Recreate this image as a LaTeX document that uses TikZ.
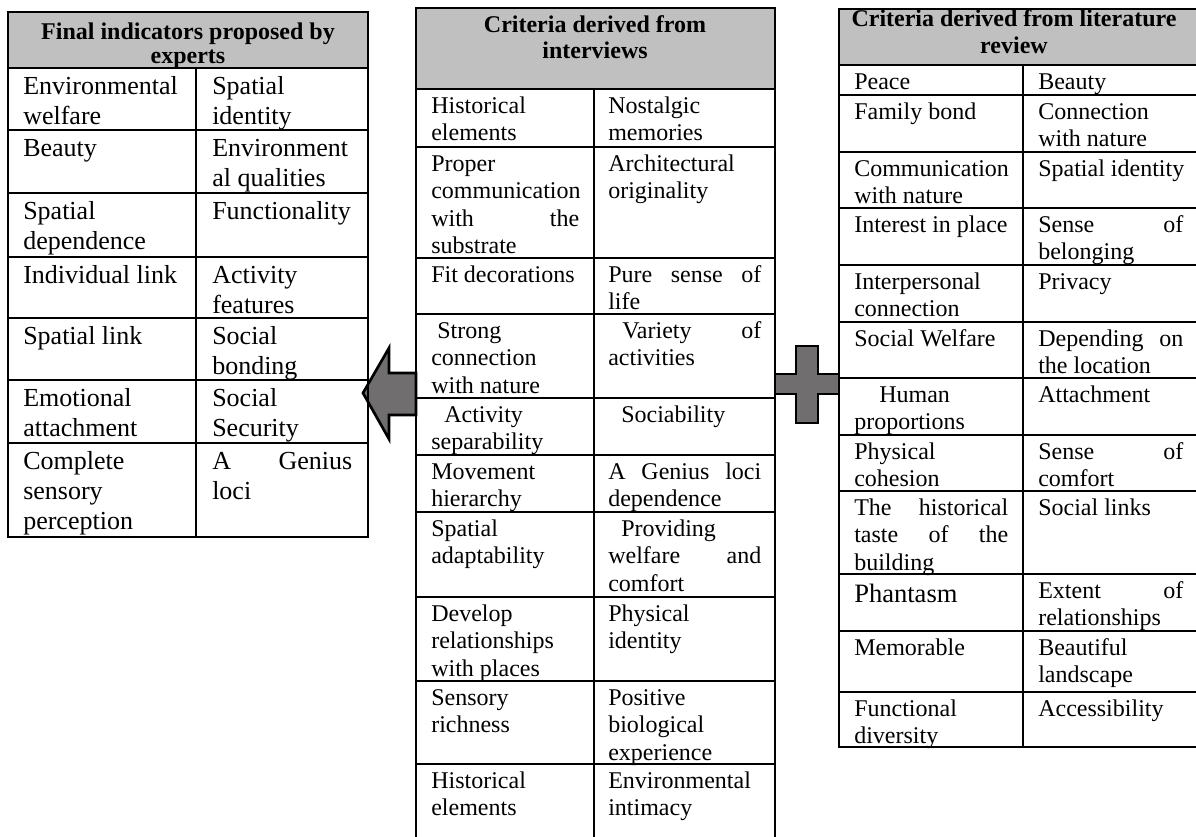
\documentclass[tikz,border=0pt]{standalone}
\usepackage{fontspec}
\setmainfont{Liberation Serif}
\usepackage{tikz}
\definecolor{hdgray}{RGB}{192,192,192}
\definecolor{symgray}{RGB}{112,110,110}
\newdimen\pxu \pxu=0.75pt
\newcommand\jline[2]{\hbox to #1\pxu{#2}}

\begin{document}
\begin{tikzpicture}[x=0.75pt,y=-0.75pt,
   grid/.style={line width=1.5pt,line cap=rect,line join=miter},
   hd/.style={anchor=north,align=center,inner sep=0pt},
   ca/.style={anchor=north west,align=left,inner sep=0pt,font=\fontsize{19.5}{22.5}\selectfont},
   cb/.style={anchor=north west,align=left,inner sep=0pt,font=\fontsize{18}{20.6}\selectfont},
   sym/.style={fill=symgray,draw,line width=2pt,line join=miter}]
  \useasboundingbox (0,0) rectangle (1196,836);

  % block arrow and plus sign
  \draw[sym] (363,393) -- (389,348) -- (389,373) -- (416,373) -- (416,415)
       -- (389,415) -- (389,439) -- cycle;
  \draw[sym] (796,346) -- (818,346) -- (818,374) -- (839,374) -- (839,394)
       -- (818,394) -- (818,423) -- (796,423) -- (796,394) -- (775,394)
       -- (775,374) -- (796,374) -- cycle;

  % table 1: experts
  \fill[hdgray] (8,12) rectangle (368,68);
  \draw[grid] (8,12) rectangle (368,537);
  \foreach \y in {68,130,193,257,318,380,443} \draw[grid] (8,\y) -- (368,\y);
  \draw[grid] (196,68) -- (196,537);
  \node[hd,font=\bfseries\fontsize{18}{18}\selectfont] (h1) at (188,22.7)
       {\strut Final indicators proposed by\\experts};
  \foreach \yt/\ta/\tb [count=\i] in {
     68/{Environmental\\welfare}/{Spatial\\identity},
     130/{Beauty}/{Environment\\al qualities},
     193/{Spatial\\dependence}/{Functionality},
     257/{Individual link}/{Activity\\features},
     318/{Spatial link}/{Social\\bonding},
     380/{Emotional\\attachment}/{Social\\Security},
     443/{Complete\\sensory\\perception}/{\jline{140}{A\hfill Genius}\\loci}}
  {
    \node[ca] (fa\i) at (23,\yt+5) {\strut\ta};
    \node[ca] (fb\i) at (212,\yt+5) {\strut\tb};
  }

  % table 2: interviews
  \fill[hdgray] (416,8) rectangle (775,89);
  \draw[grid] (416,836) -- (416,8) -- (775,8) -- (775,836);
  \foreach \y in {89,147,258,314,398,455,512,597,681,764} \draw[grid] (416,\y) -- (775,\y);
  \draw[grid] (594,89) -- (594,836);
  \node[hd,font=\bfseries\fontsize{18}{19.5}\selectfont] (h2) at (595,13.8)
       {\strut Criteria derived from\\interviews};
  \foreach \yt/\ta/\tb [count=\i] in {
     89/{Historical\\elements}/{Nostalgic\\memories},
     147/{Proper\\communication\\\jline{148}{with\hfill the}\\substrate}/{Architectural\\originality},
     258/{Fit decorations}/{\jline{153}{Pure\hfill sense\hfill of}\\life},
     314/{\hspace{6\pxu}Strong\\connection\\with nature}/{\jline{153}{\hspace{14\pxu}Variety\hfill of}\\activities},
     398/{\hspace{13\pxu}Activity\\separability}/{\hspace{13\pxu}Sociability},
     455/{Movement\\hierarchy}/{\jline{153}{A\hfill Genius\hfill loci}\\dependence},
     512/{Spatial\\adaptability}/{\hspace{13\pxu}Providing\\\jline{153}{welfare\hfill and}\\comfort},
     597/{Develop\\relationships\\with places}/{Physical\\identity},
     681/{Sensory\\richness}/{Positive\\biological\\experience},
     764/{Historical\\elements}/{Environmental\\intimacy}}
  {
    \node[cb] (ia\i) at (431,\yt+4.75) {\strut\ta};
    \node[cb] (ib\i) at (608,\yt+4.75) {\strut\tb};
  }

  % table 3: literature review
  \fill[hdgray] (839,9) rectangle (1196,65);
  \draw[grid] (1196,9) -- (839,9) -- (839,747) -- (1196,747);
  \foreach \y in {65,95,152,208,265,322,378,435,491,574,631,692} \draw[grid] (839,\y) -- (1196,\y);
  \draw[grid] (1023,65) -- (1023,747);
  \node[hd,font=\bfseries\fontsize{18}{20.25}\selectfont] (h3) at (1014,7.1)
       {\strut Criteria derived from literature\\review};
  \foreach \yt/\ta/\tb [count=\i] in {
     65/{Peace}/{Beauty},
     95/{Family bond}/{Connection\\with nature},
     152/{Communication\\with nature}/{Spatial identity},
     208/{Interest in place}/{\jline{145}{Sense\hfill of}\\belonging},
     265/{Interpersonal\\connection}/{Privacy},
     322/{Social Welfare}/{\jline{145}{Depending\hfill on}\\the location},
     378/{\hspace{25\pxu}Human\\proportions}/{Attachment},
     435/{Physical\\cohesion}/{\jline{145}{Sense\hfill of}\\comfort},
     491/{\jline{154}{The\hfill historical}\\\jline{154}{taste\hfill of\hfill the}\\building}/{Social links},
     574/{\raisebox{-4\pxu}{\fontsize{19.9}{20.6}\selectfont Phantasm}}/{\jline{145}{Extent\hfill of}\\relationships},
     631/{Memorable}/{Beautiful\\landscape},
     692/{Functional\\diversity}/{Accessibility}}
  {
    \node[cb] (la\i) at (854,\yt+4.75) {\strut\ta};
    \node[cb] (lb\i) at (1038,\yt+4.75) {\strut\tb};
  }
\end{tikzpicture}
\end{document}
